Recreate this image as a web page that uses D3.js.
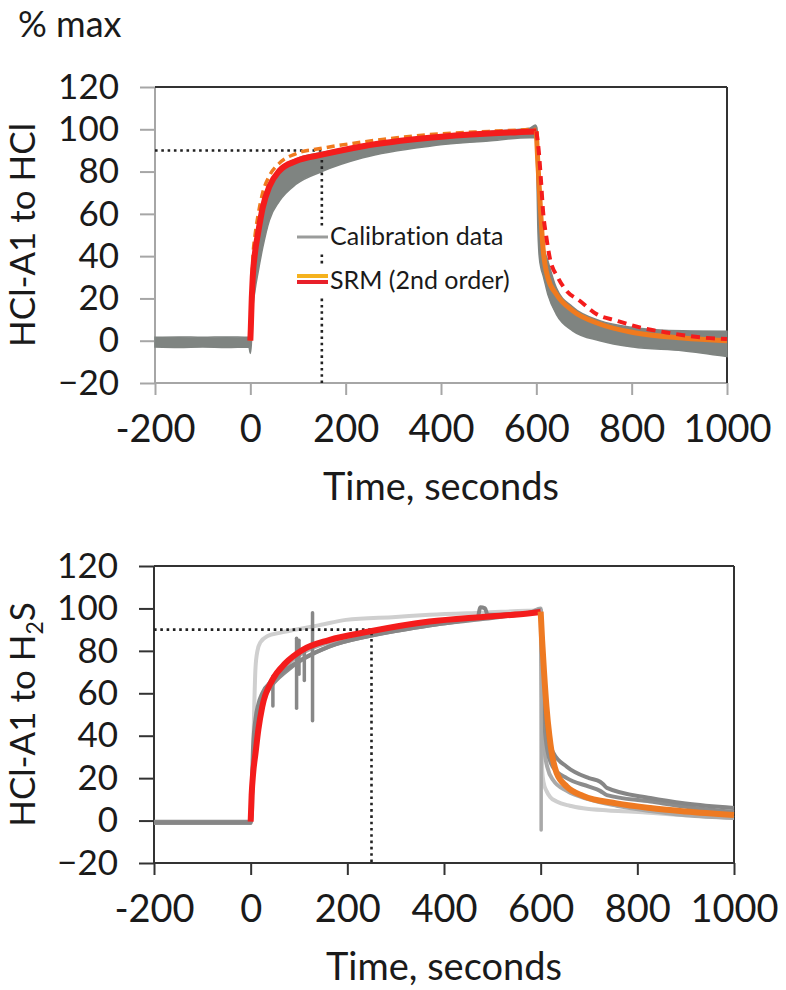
<!DOCTYPE html>
<html lang="en">
<head>
    <meta charset="utf-8">
    <title>SRM response curves</title>
    <script src="https://cdn.jsdelivr.net/npm/d3@7"></script>
    <style>
        body { margin: 0; background: #fff; }
        svg text { font-family: Lato, "Open Sans", sans-serif; fill: #1a1a1a; font-variant-ligatures: none; }
    </style>
</head>
<body>
    <svg id="chart" width="786" height="990"></svg>

    <script>
        // axis ticks shared by both panels
        const xTicks = [-200, 0, 200, 400, 600, 800, 1000];
        const yTicks = [-20, 0, 20, 40, 60, 80, 100, 120];

        // ---- top panel: HCl-A1 to HCl ----
        // grey calibration band (lower / upper edge)
        const topBandT  = [-200, -150, -100, -50, -3, 0, 2, 5, 10, 16, 26, 40, 61, 96, 150, 236, 376, 500, 586, 598, 601, 603, 606, 610, 614, 624, 642, 676, 733, 803, 907, 1000];
        const topBandLo = [-3, -3.2, -3, -3.2, -3, -6, -2, 14, 24, 32, 44, 57, 66, 74, 80, 86.5, 92, 94.5, 96, 96, 80, 55, 40, 34, 31, 22, 12.5, 4.7, 0, -3, -4.7, -7.5];
        const topBandHi = [1.6, 1.8, 1.6, 1.8, 1.6, 2, 20, 32, 44, 52, 64, 73, 81, 86, 89, 92.5, 96.5, 99, 100.5, 102, 101, 96, 80, 58, 46, 38, 25, 16, 9.5, 6.3, 4.7, 4.5];
        // SRM fits, rise (0-600 s)
        const topRiseT      = [0, 1, 3, 5, 10, 16, 26, 40, 61, 96, 150, 236, 376, 500, 600];
        const topRedRise    = [0, 6, 20, 30, 42, 50.6, 63, 73, 80.4, 85, 88, 92, 96, 98, 99];
        const topOrangeRise = [0, 8, 25, 38, 50, 59, 70, 78, 84, 88.5, 91, 94, 97.5, 99, 100];
        // SRM fits, fall (600-1000 s)
        const topOrangeFallT = [600, 603, 607, 614, 624, 642, 676, 733, 803, 907, 1000];
        const topOrangeFall  = [99, 85, 69, 44, 30, 22, 14.2, 7.9, 3.9, 1.3, 0];
        const topRedFallT    = [600, 605, 610, 614, 621, 628, 645, 663, 691, 726, 768, 817, 873, 943, 1000];
        const topRedFall     = [99, 90, 75, 61.5, 49, 39.4, 30, 23.7, 18.9, 12.6, 9.5, 6.3, 3.9, 1.6, 0.8];

        // ---- bottom panel: HCl-A1 to H2S ----
        const botG1T = [-200, 0, 5, 10, 16, 24, 45, 72, 107, 162, 245, 370, 470, 475, 485, 490, 578, 600, 603, 608, 614, 626, 654, 700, 723, 730, 737, 827, 900, 1000];
        const botG1V = [-1, -1, 35, 48, 55, 60, 66, 71, 76, 82, 87, 92, 96, 100.5, 100, 97, 98, 99, 80, 55, 42, 32, 25.4, 20, 18.3, 17, 15.4, 10.6, 8, 5.9];
        const botG2T = [-200, 0, 5, 10, 16, 24, 45, 72, 107, 162, 245, 370, 480, 578, 600, 603, 608, 614, 626, 654, 700, 723, 737, 827, 900, 1000];
        const botG2V = [-0.5, -0.5, 25, 40, 50, 56, 64, 70, 76, 82, 87, 92, 95, 98, 99, 70, 45, 33, 25, 20, 16, 14, 12, 9, 6.5, 4];
        const botG3T = [-200, 0, 5, 10, 16, 24, 45, 72, 107, 162, 245, 370, 480, 578, 600, 603, 608, 614, 626, 654, 700, 757, 827, 900, 1000];
        const botG3V = [-1.2, -1.2, 28, 42, 52, 58, 67, 73, 79, 84, 88, 93, 96, 98, 100, 55, 33, 25, 19, 14, 10, 7, 4.5, 2.5, 1.2];
        const botLightT = [-200, 0, 3, 7, 10, 14, 20, 35, 60, 93, 140, 197, 300, 370, 480, 600, 603, 606, 612, 620, 633, 660, 688, 740, 792, 900, 1000];
        const botLightV = [-1, -1, 5, 50, 72, 80, 84, 87, 88.5, 90, 92, 94.6, 96, 97, 98, 99, 24, 18, 14, 11, 9, 7, 5.8, 4.8, 4.2, 2.5, 1.2];
        // short vertical glitches in the calibration traces
        const spikeT  = [46, 95, 100, 111, 128, 601];
        const spikeLo = [54, 53, 69, 66, 47, -4.5];
        const spikeHi = [68, 86, 85, 80, 98, 99];
        // SRM fits
        const botRiseT   = [0, 2, 5, 10, 16, 24, 45, 72, 107, 162, 245, 370, 480, 578, 600];
        const botRedRise = [-0.5, 12, 22, 31.7, 43, 53.7, 66.3, 74.2, 80.4, 85.1, 89.1, 93.8, 96, 97.7, 98.3];
        const botFallT   = [600, 603, 607, 612, 618, 623, 633, 654, 688, 757, 827, 900, 1000];
        const botOrangeFall = [98.5, 85, 70, 53.7, 40, 31.8, 22.4, 16, 11.6, 8.1, 5.9, 4.3, 2.6];

        const svg = d3.select("#chart");

        const pts = (ts, vs) => ts.map((t, i) => [t, vs[i]]);

        function drawPanel(p) {
            const x = d3.scaleLinear().domain([-200, 1000]).range([p.x0, p.x1]);
            const y = d3.scaleLinear().domain([-20, 120]).range([p.y1, p.y0]);
            const g = svg.append("g");

            // left axis
            const ya = g.append("g")
                .attr("transform", `translate(${p.x0},0)`)
                .call(d3.axisLeft(y).tickValues(yTicks).tickSize(15).tickPadding(21).tickSizeOuter(0));
            ya.select(".domain").remove();
            ya.selectAll("line").attr("stroke", p.axisColor).attr("stroke-width", 2);
            ya.selectAll("text").attr("font-size", 35).style("fill", "#1a1a1a");

            // bottom axis
            const xa = g.append("g")
                .attr("transform", `translate(0,${p.y1})`)
                .call(d3.axisBottom(x).tickValues(xTicks).tickSize(12).tickPadding(20)
                    .tickSizeOuter(0).tickFormat(d => String(d)));
            xa.select(".domain").remove();
            xa.selectAll("line").attr("stroke", p.axisColor).attr("stroke-width", 2);
            xa.selectAll("text").attr("font-size", 38).style("fill", "#1a1a1a");

            // frame
            g.append("line").attr("x1", p.x0).attr("x2", p.x0).attr("y1", p.y0).attr("y2", p.y1)
                .attr("stroke", p.axisColor).attr("stroke-width", 2);
            g.append("line").attr("x1", p.x0).attr("x2", p.x1).attr("y1", p.y1).attr("y2", p.y1)
                .attr("stroke", p.axisColor).attr("stroke-width", 2);
            g.append("line").attr("x1", p.x0).attr("x2", p.x1).attr("y1", p.y0).attr("y2", p.y0)
                .attr("stroke", p.borderColor).attr("stroke-width", 2);
            g.append("line").attr("x1", p.x1).attr("x2", p.x1).attr("y1", p.y0).attr("y2", p.y1)
                .attr("stroke", p.borderColor).attr("stroke-width", 2);

            // axis titles
            g.append("text")
                .attr("x", (p.x0 + p.x1) / 2).attr("y", p.y1 + 117)
                .attr("text-anchor", "middle").attr("font-size", 38)
                .text("Time, seconds");

            const yt = g.append("text")
                .attr("transform", `translate(35,${(p.y0 + p.y1) / 2}) rotate(-90)`)
                .attr("text-anchor", "middle").attr("font-size", 35);
            yt.append("tspan").text(p.yTitle[0]);
            if (p.yTitle.length > 1) {
                yt.append("tspan").attr("font-size", 23).attr("dy", 8).text(p.yTitle[1]);
                yt.append("tspan").attr("dy", -8).text(p.yTitle[2]);
            }

            return { g, x, y };
        }

        function line(g, x, y, data, color, width, dash) {
            const path = g.append("path")
                .datum(data)
                .attr("fill", "none")
                .attr("stroke", color)
                .attr("stroke-width", width)
                .attr("stroke-linejoin", "round")
                .attr("d", d3.line().x(d => x(d[0])).y(d => y(d[1])).curve(d3.curveMonotoneX));
            if (dash) path.attr("stroke-dasharray", dash);
            return path;
        }

        function dotted(g, x, y, tCross) {
            g.append("path")
                .attr("d", `M${x(-200)},${y(90)}H${x(tCross)}V${y(-20)}`)
                .attr("fill", "none").attr("stroke", "#222")
                .attr("stroke-width", 2.6).attr("stroke-dasharray", "2.6 3.7");
        }

        // % max label
        svg.append("text").attr("x", 18).attr("y", 37).attr("font-size", 36).text("% max");

        // ---- top panel ----
        const topP = drawPanel({ x0: 155, x1: 727, y0: 87, y1: 383,
            axisColor: "#a6a6a6", borderColor: "#333", yTitle: ["HCl-A1 to HCl"] });

        topP.g.append("path")
            .datum(topBandT.map((t, i) => [t, topBandLo[i], topBandHi[i]]))
            .attr("fill", "#7f8481")
            .attr("stroke", "#7f8481").attr("stroke-width", 1.5)
            .attr("d", d3.area().x(d => topP.x(d[0])).y0(d => topP.y(d[1])).y1(d => topP.y(d[2]))
                .curve(d3.curveMonotoneX));

        dotted(topP.g, topP.x, topP.y, 150);

        line(topP.g, topP.x, topP.y, pts(topRiseT, topOrangeRise), "#f07a1e", 3.5, "8 5");
        line(topP.g, topP.x, topP.y, pts(topRiseT, topRedRise), "#f41c1c", 6);
        line(topP.g, topP.x, topP.y, pts(topOrangeFallT, topOrangeFall), "#f07a1e", 5);
        line(topP.g, topP.x, topP.y, pts(topRedFallT, topRedFall), "#f41c1c", 4, "9 6");

        // legend
        const leg = topP.g.append("g");
        leg.append("rect").attr("x", 294).attr("y", 226).attr("width", 228).attr("height", 25).attr("fill", "#fff");
        leg.append("rect").attr("x", 294).attr("y", 267).attr("width", 228).attr("height", 30).attr("fill", "#fff");
        leg.append("line").attr("x1", 297).attr("x2", 328).attr("y1", 237).attr("y2", 237)
            .attr("stroke", "#9a9c9b").attr("stroke-width", 3);
        leg.append("line").attr("x1", 297).attr("x2", 328).attr("y1", 276).attr("y2", 276)
            .attr("stroke", "#f5b21e").attr("stroke-width", 4);
        leg.append("line").attr("x1", 297).attr("x2", 328).attr("y1", 282).attr("y2", 282)
            .attr("stroke", "#e8202a").attr("stroke-width", 4);
        leg.append("text").attr("x", 330).attr("y", 245).attr("font-size", 25).text("Calibration data");
        leg.append("text").attr("x", 330).attr("y", 289).attr("font-size", 25).text("SRM (2nd order)");

        // ---- bottom panel ----
        const botP = drawPanel({ x0: 154, x1: 734, y0: 566, y1: 863,
            axisColor: "#333", borderColor: "#333", yTitle: ["HCl-A1 to H", "2", "S"] });

        line(botP.g, botP.x, botP.y, pts(botLightT, botLightV), "#cfcfcf", 4);
        line(botP.g, botP.x, botP.y, pts(botG3T, botG3V), "#a9a9a9", 4);
        line(botP.g, botP.x, botP.y, pts(botG2T, botG2V), "#8c8c8c", 4);
        line(botP.g, botP.x, botP.y, pts(botG1T, botG1V), "#868686", 4);
        botP.g.selectAll("line.spike")
            .data(spikeT.map((t, i) => [t, spikeLo[i], spikeHi[i]]))
            .enter().append("line")
            .attr("class", "spike")
            .attr("x1", d => botP.x(d[0])).attr("x2", d => botP.x(d[0]))
            .attr("y1", d => botP.y(d[1])).attr("y2", d => botP.y(d[2]))
            .attr("stroke", (d, i) => i === spikeT.length - 1 ? "#a9a9a9" : "#888")
            .attr("stroke-width", 3.5).attr("stroke-linecap", "round");

        dotted(botP.g, botP.x, botP.y, 250);

        line(botP.g, botP.x, botP.y, pts(botRiseT, botRedRise), "#f41c1c", 6);
        line(botP.g, botP.x, botP.y, pts(botFallT, botOrangeFall), "#ee7a22", 6);
    </script>
</body>
</html>
